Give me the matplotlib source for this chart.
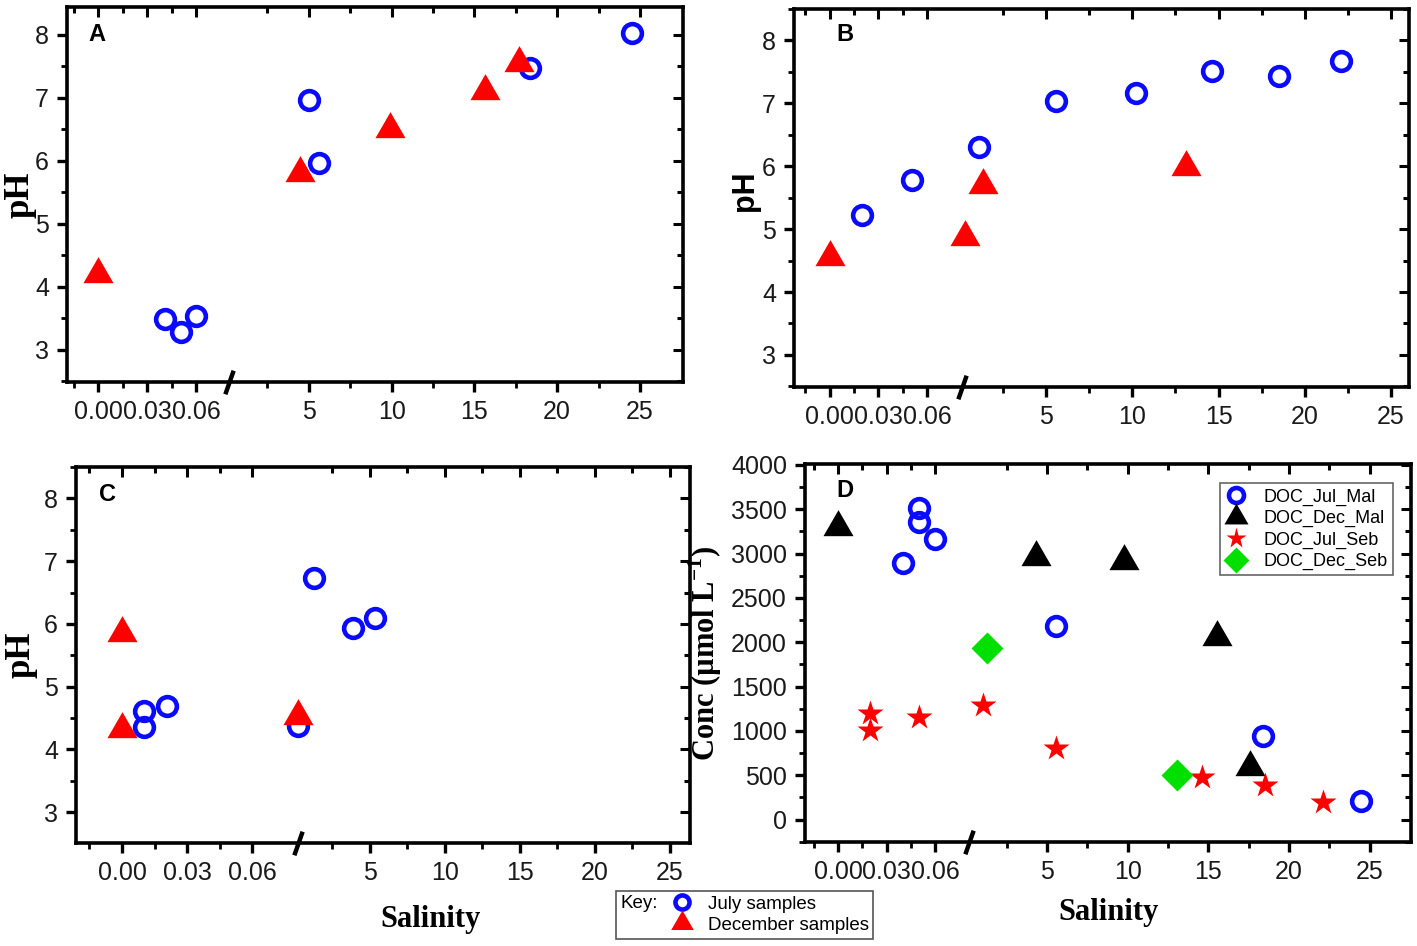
import numpy as np
import matplotlib
matplotlib.use('Agg')
import matplotlib.pyplot as plt
from matplotlib.ticker import FixedLocator, FixedFormatter, MultipleLocator
from matplotlib.transforms import blended_transform_factory
from matplotlib.patches import Rectangle
from matplotlib.lines import Line2D

# %%
# Data (salinity, pH / DOC)
sal_major = [0.0, 0.03, 0.06, 5, 10, 15, 20, 25]
sal_labels = ['0.00', '0.03', '0.06', '5', '10', '15', '20', '25']
sal_minor = [-0.015, 0.015, 0.045, 2.5, 7.5, 12.5, 17.5, 22.5]

# A
a_jul_sal = [0.041, 0.0505, 0.060, 5.0, 5.61, 18.34, 24.5]
a_jul_ph = [3.49, 3.28, 3.54, 6.97, 5.97, 7.47, 8.03]
a_dec_sal = [0.0, 4.45, 9.88, 15.65, 17.7]
a_dec_ph = [4.20, 5.81, 6.50, 7.10, 7.55]

# B
b_jul_sal = [0.020, 0.0505, 1.09, 5.58, 10.21, 14.62, 18.48, 22.1]
b_jul_ph = [5.23, 5.78, 6.31, 7.03, 7.17, 7.51, 7.43, 7.67]
b_dec_sal = [0.0, 0.30, 1.36, 13.12]
b_dec_ph = [4.55, 4.88, 5.70, 5.98]

# C
c_jul_sal = [0.0103, 0.0103, 0.0205, 0.20, 1.27, 3.87, 5.36]
c_jul_ph = [4.61, 4.36, 4.70, 4.38, 6.73, 5.93, 6.09]
c_dec_sal = [0.0, 0.0, 0.20]
c_dec_ph = [5.86, 4.33, 4.53]

# D
d_jul_mal_sal = [0.040, 0.0503, 0.0503, 0.060, 5.57, 18.36, 24.48]
d_jul_mal_doc = [2890, 3511, 3360, 3161, 2182, 940, 210]
d_dec_mal_sal = [0.0, 4.33, 9.79, 15.56, 17.56]
d_dec_mal_doc = [3304, 2962, 2917, 2062, 588]
d_jul_seb_sal = [0.0194, 0.0194, 0.0503, 1.05, 5.57, 14.62, 18.51, 22.08]
d_jul_seb_doc = [1197, 1008, 1158, 1290, 808, 481, 387, 199]
d_dec_seb_sal = [1.28, 13.05]
d_dec_seb_doc = [1937, 500]

d_labels = ['DOC_Jul_Mal', 'DOC_Dec_Mal', 'DOC_Jul_Seb', 'DOC_Dec_Seb']
key_labels = ['July samples', 'December samples']

# %%
plt.rcParams['font.family'] = 'Liberation Sans'
plt.rcParams['mathtext.fontset'] = 'custom'
plt.rcParams['mathtext.rm'] = 'Liberation Serif'
plt.rcParams['mathtext.bf'] = 'Liberation Serif:bold'

BLUE = '#0a0aff'
RED = '#ff0000'
GREEN = '#00e000'

circ = dict(marker='o', ms=13.5, mfc='none', mec=BLUE, mew=3.3, ls='none')
tri_red = dict(marker=(3, 0, 0), ms=25, color=RED, mec='none', ls='none')
tri_blk = dict(marker=(3, 0, 0), ms=25, color='black', mec='none', ls='none')
star = dict(marker='*', ms=19, color=RED, mec='none', ls='none')
diam = dict(marker='D', ms=16, color=GREEN, mec='none', ls='none')


def broken_funcs(left_ppu, right_zero, right_ppu, brk):
    # piecewise-linear salinity axis: 0-0.06 stretched, then break, then 0-25
    xb1 = brk / left_ppu
    xb2 = (brk + 1 - right_zero) / right_ppu
    xs = np.array([-10.0, xb1, xb2, 100.0])
    us = np.array([-10.0 * left_ppu, brk, brk + 1.0, right_zero + 100.0 * right_ppu])

    def fwd(x):
        return np.interp(x, xs, us)

    def inv(u):
        return np.interp(u, us, xs)
    return fwd, inv, 0.5 * (xb1 + xb2)


def setup(fig, ax, funcs, xlim, ylim, ymaj, ymin):
    fwd, inv, xm = funcs
    ax.set_xscale('function', functions=(fwd, inv))
    ax.set_xlim(*xlim)
    ax.set_ylim(*ylim)
    ax.xaxis.set_major_locator(FixedLocator(sal_major))
    ax.xaxis.set_major_formatter(FixedFormatter(sal_labels))
    ax.xaxis.set_minor_locator(FixedLocator(sal_minor))
    ax.yaxis.set_major_locator(MultipleLocator(ymaj))
    ax.yaxis.set_minor_locator(MultipleLocator(ymin))
    ax.tick_params(which='major', direction='out', length=7, width=2.4,
                   labelsize=18, labelcolor='#1a1a1a', pad=6)
    ax.tick_params(which='minor', direction='out', length=4, width=2.0)
    for s in ax.spines.values():
        s.set_linewidth(2.6)
    # inward ticks on top / right
    tw = fig.add_axes(ax.get_position(), sharex=ax, sharey=ax, frameon=False)
    tw.tick_params(which='both', bottom=False, left=False, top=True, right=True,
                   direction='in', labelbottom=False, labelleft=False, width=2.2)
    tw.tick_params(which='major', length=7)
    tw.tick_params(which='minor', length=4)
    # break mark
    tr = blended_transform_factory(ax.transData, ax.transAxes)
    ax.plot([xm], [0], transform=tr, marker=[(-0.35, -1), (0.35, 1)], ms=17,
            mew=3.2, color='black', clip_on=False, zorder=6)


fig = plt.figure(figsize=(14.17, 9.46), dpi=100)

W, H = 1417, 946


def pos(l, t, r, b):
    return [l / W, 1 - b / H, (r - l) / W, (b - t) / H]


axA = fig.add_axes(pos(67, 7, 683, 382))
axB = fig.add_axes(pos(794, 9, 1409, 387))
axC = fig.add_axes(pos(76, 467, 690, 843))
axD = fig.add_axes(pos(805, 464, 1411, 842))

# %% A
axA.plot(a_jul_sal, a_jul_ph, **circ, zorder=3)
axA.plot(a_dec_sal, a_dec_ph, **tri_red, zorder=4)
setup(fig, axA, broken_funcs(1633, 128, 16.55, 130), (-0.019, 27.6), (2.49, 8.44), 1, 0.5)
axA.set_ylabel('pH', fontfamily='Liberation Serif', fontweight='bold', fontsize=25)
axA.yaxis.set_label_coords(-0.05, 0.5)

# %% B
axB.plot(b_jul_sal, b_jul_ph, **circ, zorder=3)
axB.plot(b_dec_sal, b_dec_ph, **tri_red, zorder=4)
setup(fig, axB, broken_funcs(1623, 130.2, 17.25, 131.4), (-0.022, 26.04), (2.49, 8.50), 1, 0.5)
axB.set_ylabel('pH', fontweight='bold', fontsize=22)
axB.yaxis.set_label_coords(-0.055, 0.52)

# %% C
axC.plot(c_jul_sal, c_jul_ph, **circ, zorder=3)
axC.plot(c_dec_sal, c_dec_ph, **tri_red, zorder=4)
setup(fig, axC, broken_funcs(2173, 172.8, 15.0, 175), (-0.0212, 26.35), (2.51, 8.50), 1, 0.5)
axC.set_ylabel('pH', fontfamily='Liberation Serif', fontweight='bold', fontsize=25)
axC.yaxis.set_label_coords(-0.062, 0.5)
axC.set_xlabel('Salinity', fontfamily='Liberation Serif', fontweight='bold', fontsize=22)
axC.xaxis.set_label_coords(0.578, -0.165)

# %% D
hD = [
    axD.plot(d_jul_mal_sal, d_jul_mal_doc, **circ, zorder=3)[0],
    axD.plot(d_dec_mal_sal, d_dec_mal_doc, **tri_blk, zorder=4)[0],
    axD.plot(d_jul_seb_sal, d_jul_seb_doc, **star, zorder=4)[0],
    axD.plot(d_dec_seb_sal, d_dec_seb_doc, **diam, zorder=4)[0],
]
setup(fig, axD, broken_funcs(1613, 128.2, 16.13, 130.4), (-0.0206, 27.56), (-253, 4011), 500, 250)
axD.set_ylabel(r'Conc (µmol L$^{\mathbf{-1}}$)', fontfamily='Liberation Serif',
               fontweight='bold', fontsize=22)
axD.yaxis.set_label_coords(-0.134, 0.5)
axD.set_xlabel('Salinity', fontfamily='Liberation Serif', fontweight='bold', fontsize=22)
axD.xaxis.set_label_coords(0.5, -0.148)
legD = axD.legend(hD, d_labels, loc='upper right', bbox_to_anchor=(0.970, 0.950),
                  borderaxespad=0, fontsize=13, markerscale=0.8, handlelength=1.2,
                  handletextpad=0.9, labelspacing=0.24, borderpad=0.3,
                  fancybox=False, framealpha=1, edgecolor='#666666')
legD.get_frame().set_linewidth(1.2)

# panel letters
for ax, letter, xy in [(axA, 'A', (0.049, 0.926)), (axB, 'B', (0.083, 0.933)),
                       (axC, 'C', (0.052, 0.926)), (axD, 'D', (0.066, 0.931))]:
    ax.text(*xy, letter, transform=ax.transAxes, ha='center', va='center',
            fontsize=17, fontweight='bold', zorder=7)

# %% key box at the bottom
key_handles = [Line2D([], [], **circ), Line2D([], [], **tri_red)]
fig.legend(key_handles, key_labels, loc='center left',
           bbox_to_anchor=(672 / W, 1 - 914.5 / H), frameon=False, fontsize=13.5,
           markerscale=0.75, handlelength=1.1, handletextpad=0.8, borderpad=0,
           labelspacing=0.2, borderaxespad=0)
fig.add_artist(Rectangle((616 / W, 1 - 939.3 / H), 256.7 / W, 48.6 / H,
                         transform=fig.transFigure, fill=False, ec='#555555', lw=1.2))
fig.text(620 / W, 1 - 903 / H, 'Key:', fontsize=13.5, ha='left', va='center')

fig.savefig('out.png', dpi=100)
